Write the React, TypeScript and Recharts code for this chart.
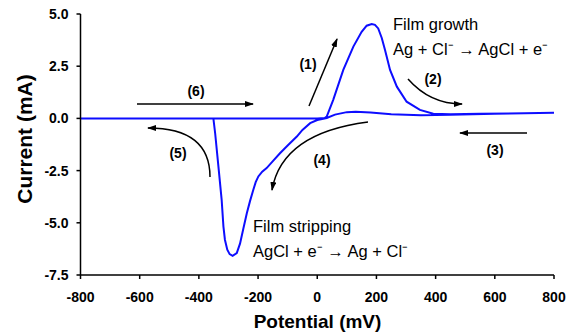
import { LineChart, Line, XAxis, YAxis } from 'recharts';

// cyclic voltammogram, points in scan order
// forward scan from -800, film growth peak, out to 800, back through the stripping trough, back to -800
const potential = [
  -800, -600, -400, -200, 0, 25,
  32, 54, 88, 122, 150, 167, 184, 195, 206, 218, 229, 246, 269, 302, 347, 392, 450, 550, 650, 800,
  700, 600, 450, 350, 250, 180, 130, 100, 60, 32, 0, -24, -50, -69, -100, -126, -150, -171, -186,
  -199, -208, -216, -227, -238, -250, -261, -272, -286, -296, -304, -312, -317, -323, -334, -345,
  -351, -500, -800,
];
const current = [
  0, 0, 0, 0, 0, 0.02,
  0.09, 0.89, 2.32, 3.44, 4.15, 4.44, 4.52, 4.48, 4.31, 3.85, 3.28, 2.32, 1.52, 0.8, 0.41, 0.22, 0.2, 0.22, 0.24, 0.27,
  0.25, 0.22, 0.17, 0.15, 0.2, 0.28, 0.32, 0.3, 0.18, 0.02, -0.08, -0.23, -0.55, -0.87, -1.3, -1.67, -2.05, -2.38, -2.55,
  -2.78, -3.05, -3.42, -3.95, -4.54, -5.3, -6.0, -6.45, -6.58, -6.5, -6.29, -5.81, -5.18, -3.9, -2.3, -0.71,
  0, 0, 0,
];

const xTicks = [-800, -600, -400, -200, 0, 200, 400, 600, 800];
const yTicks = [-7.5, -5, -2.5, 0, 2.5, 5];

const data = potential.map((v, i) => ({ v, i: current[i] }));

const font = "'Liberation Sans', Arial, sans-serif";
const tickStyle = { fill: '#000', fontSize: 14, fontWeight: 'bold', fontFamily: font };

function Notes() {
  const arrowLine = { stroke: '#000', strokeWidth: 1.5, fill: 'none', markerEnd: 'url(#head)' };
  const num = { fontSize: 14, fontWeight: 'bold', textAnchor: 'middle' as const };
  const note = { fontSize: 16.5 };
  return (
    <svg
      width={575}
      height={336}
      style={{ position: 'absolute', left: 0, top: 0, pointerEvents: 'none', fontFamily: font }}
    >
      <defs>
        <marker id="head" markerWidth="9" markerHeight="6" refX="8" refY="3" orient="auto" markerUnits="userSpaceOnUse">
          <path d="M0,0 L9,3 L0,6 Z" fill="#000" />
        </marker>
      </defs>

      <path d="M137,104 L253,104" {...arrowLine} />
      <path d="M210,177 Q210,128 148,128" {...arrowLine} />
      <path d="M309,106 L337,39" {...arrowLine} />
      <path d="M408,79 Q430,104 462,104" {...arrowLine} />
      <path d="M527,133 L460,133" {...arrowLine} />
      <path d="M368,122 Q282,133 272,190" {...arrowLine} />

      <text x={196} y={91} dy="0.35em" {...num}>(6)</text>
      <text x={178} y={153} dy="0.35em" {...num}>(5)</text>
      <text x={308} y={64} dy="0.35em" {...num}>(1)</text>
      <text x={433} y={79} dy="0.35em" {...num}>(2)</text>
      <text x={495} y={150} dy="0.35em" {...num}>(3)</text>
      <text x={322} y={160} dy="0.35em" {...num}>(4)</text>

      <text x={393} y={29.5} {...note}>Film growth</text>
      <text x={393} y={55} {...note}>Ag + Cl⁻ → AgCl + e⁻</text>
      <text x={253} y={232} {...note}>Film stripping</text>
      <text x={253} y={257} {...note}>AgCl + e⁻ → Ag + Cl⁻</text>

      <text x={317.5} y={328} fontSize={19} fontWeight="bold" textAnchor="middle">
        Potential (mV)
      </text>
      <text
        transform="translate(32,139) rotate(-90)"
        fontSize={21}
        fontWeight="bold"
        textAnchor="middle"
      >
        Current (mA)
      </text>
    </svg>
  );
}

export default function App() {
  return (
    <div style={{ position: 'absolute', left: 0, top: 0, width: 575, height: 336, background: '#fff' }}>
      <LineChart width={575} height={336} data={data} margin={{ top: 14, right: 21, bottom: 0, left: 0 }}>
        <XAxis
          dataKey="v"
          type="number"
          domain={[-800, 800]}
          ticks={xTicks}
          height={61}
          tick={tickStyle}
          tickSize={4}
          tickMargin={13}
          axisLine={{ stroke: '#000', strokeWidth: 1.5 }}
          tickLine={{ stroke: '#000', strokeWidth: 1.5 }}
        />
        <YAxis
          type="number"
          domain={[-7.5, 5]}
          ticks={yTicks}
          width={80.5}
          tick={tickStyle}
          tickSize={4}
          tickMargin={8}
          tickFormatter={(t: number) => t.toFixed(1)}
          axisLine={{ stroke: '#000', strokeWidth: 1.5 }}
          tickLine={{ stroke: '#000', strokeWidth: 1.5 }}
        />
        <Line
          type="linear"
          dataKey="i"
          stroke="#0d0dff"
          strokeWidth={2}
          dot={false}
          isAnimationActive={false}
        />
      </LineChart>
      <Notes />
    </div>
  );
}
